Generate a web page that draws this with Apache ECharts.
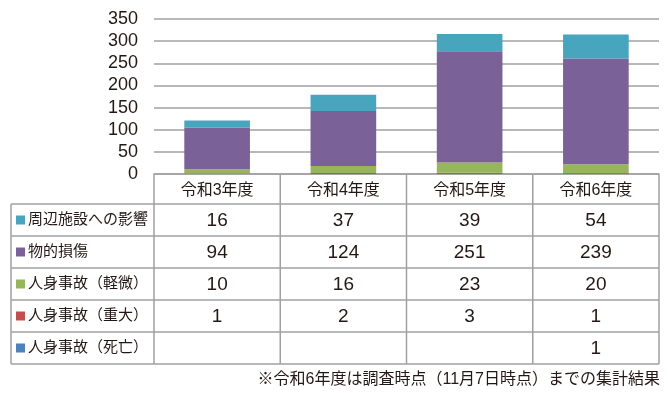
<!DOCTYPE html>
<html>
<head>
<meta charset="utf-8">
<script src="https://cdn.jsdelivr.net/npm/echarts@6/dist/echarts.min.js"></script>
<style>
  html, body { margin: 0; padding: 0; background: #fff; }
  #main { width: 668px; height: 393px; }
</style>
</head>
<body>
<div id="main"></div>
<script>
// データ
var years = ["令和3年度", "令和4年度", "令和5年度", "令和6年度"];
var shuhen = [16, 37, 39, 54];      // 周辺施設への影響
var butteki = [94, 124, 251, 239];  // 物的損傷
var keibi = [10, 16, 23, 20];       // 人身事故（軽微）
var judai = [1, 2, 3, 1];           // 人身事故（重大）
var shibou = [null, null, null, 1]; // 人身事故（死亡）
var yTicks = [0, 50, 100, 150, 200, 250, 300, 350];
var note = "※令和6年度は調査時点（11月7日時点）までの集計結果";

var font = "'Liberation Sans', 'Noto Sans CJK JP', sans-serif";
var txt = "#231815";
var lineCol = "#a0a0a0";

// 表の行（上から）
var rows = [
  { name: "周辺施設への影響", data: shuhen, color: "#47a5bd" },
  { name: "物的損傷", data: butteki, color: "#7a6299" },
  { name: "人身事故（軽微）", data: keibi, color: "#97b65b" },
  { name: "人身事故（重大）", data: judai, color: "#c0504d" },
  { name: "人身事故（死亡）", data: shibou, color: "#4f81bd" }
];

var gridL = 154, gridR = 659, gridT = 19, gridB = 174;
var tableL = 11, rowTop = 204, rowH = 32;
var colW = (gridR - gridL) / years.length;

var myChart = echarts.init(document.getElementById("main"));

// 表を描く
var graphics = [];
var tableBottom = rowTop + rows.length * rowH;
for (var r = 0; r <= rows.length; r++) {
  var y = rowTop + r * rowH;
  graphics.push({ type: "line", shape: { x1: tableL, y1: y, x2: gridR, y2: y },
    style: { stroke: lineCol, lineWidth: 1.5 } });
}
graphics.push({ type: "line", shape: { x1: tableL, y1: rowTop, x2: tableL, y2: tableBottom },
  style: { stroke: lineCol, lineWidth: 1.5 } });
for (var c = 0; c <= years.length; c++) {
  var x = gridL + c * colW;
  graphics.push({ type: "line", shape: { x1: x, y1: gridB, x2: x, y2: tableBottom },
    style: { stroke: lineCol, lineWidth: 1.5 } });
}
rows.forEach(function (row, i) {
  var cy = rowTop + i * rowH + rowH / 2;
  graphics.push({ type: "rect", shape: { x: 16, y: cy - 4.5, width: 9, height: 9 },
    style: { fill: row.color } });
  graphics.push({ type: "text", x: 28, y: cy,
    style: { text: row.name, font: "15px " + font, fill: txt, verticalAlign: "middle" } });
  row.data.forEach(function (v, j) {
    if (v == null) return;
    graphics.push({ type: "text", x: gridL + (j + 0.5) * colW, y: cy + 1,
      style: { text: String(v), font: "19px " + font, fill: txt, align: "center", verticalAlign: "middle" } });
  });
});
graphics.push({ type: "text", x: gridR + 1, y: 380,
  style: { text: note, font: "16px " + font, fill: txt, align: "right", verticalAlign: "middle" } });

// 積み上げ（下から死亡→重大→軽微→物的→周辺）
var series = rows.slice().reverse().map(function (row) {
  return {
    name: row.name,
    type: "bar",
    stack: "total",
    barWidth: "52%",
    itemStyle: { color: row.color },
    data: row.data
  };
});

var option = {
  animation: false,
  grid: { left: gridL, right: 668 - gridR, top: gridT, bottom: 393 - gridB },
  xAxis: {
    type: "category",
    data: years,
    axisLine: { lineStyle: { color: lineCol, width: 1.5 } },
    axisTick: { show: false },
    axisLabel: { color: txt, fontSize: 16, fontFamily: font, margin: 9 }
  },
  yAxis: {
    type: "value",
    min: 0,
    max: 350,
    interval: 50,
    axisLine: { show: false },
    axisTick: { show: false },
    axisLabel: {
      color: txt, fontSize: 18, fontFamily: font, margin: 16,
      formatter: function (v) { return yTicks.indexOf(v) >= 0 ? String(v) : ""; }
    },
    splitLine: { lineStyle: { color: lineCol, width: 1.5 } }
  },
  graphic: graphics,
  series: series
};
myChart.setOption(option);
</script>
</body>
</html>
